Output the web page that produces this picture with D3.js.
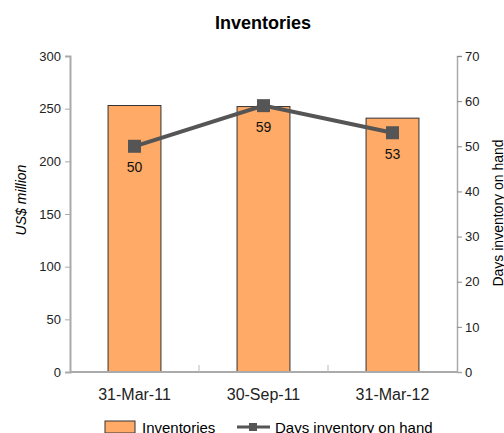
<!DOCTYPE html>
<html>
<head>
<meta charset="utf-8">
<style>
    body { margin: 0; background: #fff; }
    svg { font-family: 'Liberation Sans', Arial, sans-serif; }
</style>
</head>
<body>
<svg width="504" height="433"></svg>
<script src="https://d3js.org/d3.v7.min.js"></script>
<script>
    // chart data
    let periods = ["31-Mar-11", "30-Sep-11", "31-Mar-12"]
    let inventories = [253, 252, 241]
    let daysOnHand = [50, 59, 53]
    let leftTicks = [0, 50, 100, 150, 200, 250, 300]
    let rightTicks = [0, 10, 20, 30, 40, 50, 60, 70]

    let svg = d3.select("svg")
    let plotLeft = 70, plotRight = 457, plotTop = 56, plotBottom = 372

    let x = d3.scaleBand()
        .domain(periods)
        .range([plotLeft, plotRight])
        .paddingInner(0)
        .paddingOuter(0)

    let yL = d3.scaleLinear().domain([0, 300]).range([plotBottom, plotTop])
    let yR = d3.scaleLinear().domain([0, 70]).range([plotBottom, plotTop])

    let barW = x.bandwidth() * 0.41

    // title
    svg.append("text")
        .attr("x", 263).attr("y", 29)
        .attr("text-anchor", "middle")
        .style("font-weight", "bold")
        .style("font-size", "18px")
        .text("Inventories")

    // bars
    svg.append("g")
        .selectAll("rect")
        .data(periods)
        .join("rect")
        .attr("x", d => x(d) + x.bandwidth() / 2 - barW / 2)
        .attr("width", barW)
        .attr("y", (d, i) => yL(inventories[i]))
        .attr("height", (d, i) => plotBottom - yL(inventories[i]))
        .style("fill", "#FFAA66")
        .style("stroke", "#333")
        .style("stroke-width", 1)

    // left axis
    let axL = svg.append("g")
        .attr("transform", "translate(" + plotLeft + ",0)")
        .call(d3.axisLeft(yL).tickValues(leftTicks).tickSize(5).tickPadding(4))
    axL.select(".domain").attr("stroke", "#aaa").attr("stroke-width", 2)
    axL.selectAll(".tick line").attr("stroke", "#aaa")
    axL.selectAll(".tick text").style("font-size", "13px").attr("fill", "#222")
        .style("font-family", "'Liberation Sans', Arial, sans-serif")

    // right axis
    let axR = svg.append("g")
        .attr("transform", "translate(" + plotRight + ",0)")
        .call(d3.axisRight(yR).tickValues(rightTicks).tickSize(5).tickPadding(3))
    axR.select(".domain").attr("stroke", "#aaa").attr("stroke-width", 1.5)
    axR.selectAll(".tick line").attr("stroke", "#888")
    axR.selectAll(".tick").filter(d => d === 0).select("line").remove()
    axR.selectAll(".tick text").style("font-size", "13px").attr("fill", "#222")
        .style("font-family", "'Liberation Sans', Arial, sans-serif")
    axR.selectAll(".tick").filter(d => d === 0).select("text").attr("x", 8)

    // bottom axis
    let axB = svg.append("g")
        .attr("transform", "translate(0," + plotBottom + ")")
    axB.append("line")
        .attr("x1", plotLeft).attr("x2", plotRight)
        .attr("stroke", "#aaa").attr("stroke-width", 2)
    axB.selectAll(".sep")
        .data(periods.slice(1))
        .join("line")
        .attr("x1", d => x(d)).attr("x2", d => x(d))
        .attr("y1", 0).attr("y2", -7)
        .attr("stroke", "#bbb")
    axB.selectAll(".cat")
        .data(periods)
        .join("text")
        .attr("x", d => x(d) + x.bandwidth() / 2)
        .attr("y", 28)
        .attr("text-anchor", "middle")
        .style("font-size", "16px")
        .attr("fill", "#222")
        .text(d => d)

    // axis titles
    svg.append("text")
        .attr("transform", "translate(26,200) rotate(-90)")
        .attr("text-anchor", "middle")
        .style("font-size", "14px")
        .style("font-style", "italic")
        .text("US$ million")

    svg.append("text")
        .attr("transform", "translate(503,213) rotate(-90)")
        .attr("text-anchor", "middle")
        .style("font-size", "14px")
        .text("Days inventory on hand")

    // line series
    let line = d3.line()
        .x((d, i) => x(periods[i]) + x.bandwidth() / 2)
        .y(d => yR(d))

    svg.append("path")
        .datum(daysOnHand)
        .attr("d", line)
        .style("fill", "none")
        .style("stroke", "#555")
        .style("stroke-width", 4)

    let ms = 13
    svg.append("g")
        .selectAll("rect")
        .data(daysOnHand)
        .join("rect")
        .attr("x", (d, i) => x(periods[i]) + x.bandwidth() / 2 - ms / 2)
        .attr("y", d => yR(d) - ms / 2)
        .attr("width", ms).attr("height", ms)
        .style("fill", "#555")

    svg.append("g")
        .selectAll("text")
        .data(daysOnHand)
        .join("text")
        .attr("x", (d, i) => x(periods[i]) + x.bandwidth() / 2)
        .attr("y", d => yR(d) + 26)
        .attr("text-anchor", "middle")
        .style("font-size", "14px")
        .attr("fill", "#111")
        .text(d => d)

    // legend
    let lg = svg.append("g").attr("transform", "translate(0,427)")
    lg.append("rect")
        .attr("x", 105).attr("y", -6).attr("width", 30).attr("height", 12)
        .style("fill", "#FFAA66").style("stroke", "#333")
    lg.append("text")
        .attr("x", 142).attr("y", 6)
        .style("font-size", "15px")
        .text("Inventories")
    lg.append("line")
        .attr("x1", 237).attr("x2", 270)
        .attr("stroke", "#555").attr("stroke-width", 3)
    lg.append("rect")
        .attr("x", 249).attr("y", -4).attr("width", 8).attr("height", 8)
        .style("fill", "#555")
    lg.append("text")
        .attr("x", 275).attr("y", 6)
        .style("font-size", "15px")
        .text("Days inventory on hand")
</script>
</body>
</html>
